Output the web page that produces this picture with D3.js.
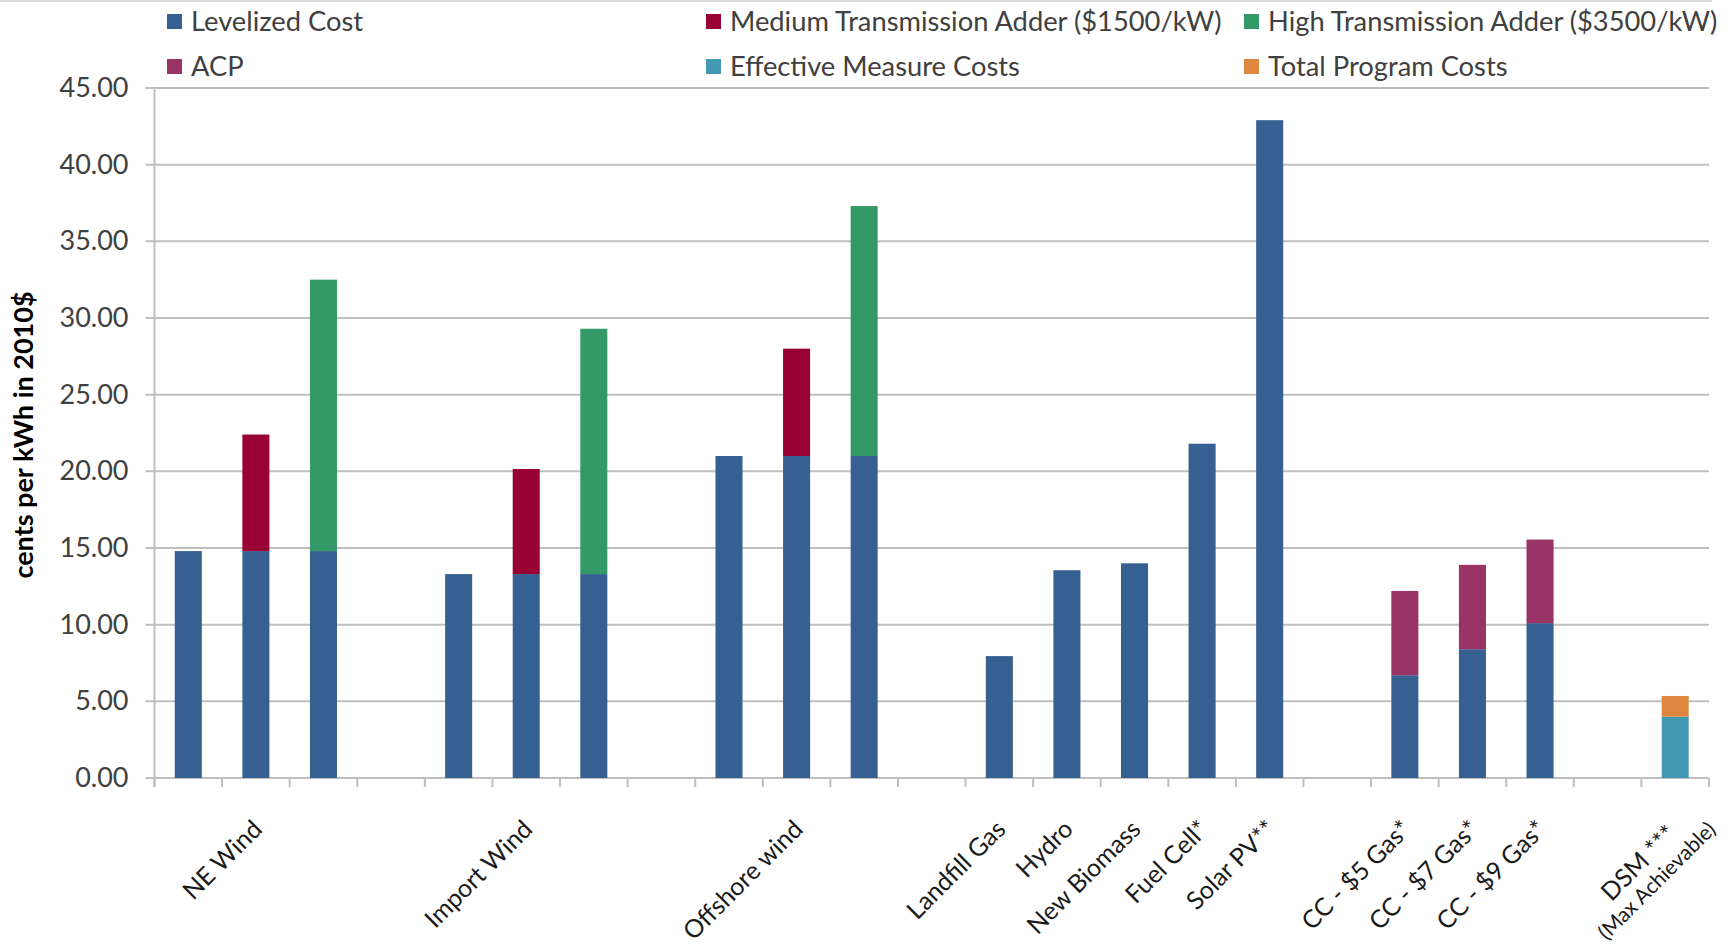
<!DOCTYPE html>
<html>
<head>
<meta charset="utf-8">
<script src="https://cdn.jsdelivr.net/npm/d3@7"></script>
<style>
  html, body { margin: 0; padding: 0; background: #ffffff; }
  svg { display: block; }
  text { font-family: Lato, "Open Sans", sans-serif; }
</style>
</head>
<body>
<svg id="chart" width="1733" height="947"></svg>
<script>
// Category slots along the x axis (blank slots separate the groups)
const slotLabels = [
  "", "NE Wind", "", "",
  "", "Import Wind", "", "",
  "", "Offshore wind", "", "",
  "Landfill Gas", "Hydro", "New Biomass", "Fuel Cell*", "Solar PV**", "",
  "CC - $5 Gas*", "CC - $7 Gas*", "CC - $9 Gas*", "",
  "DSM ***"
];
const slotSubLabels = [
  "", "", "", "", "", "", "", "", "", "", "", "",
  "", "", "", "", "", "", "", "", "", "",
  "(Max Achievable)"
];

// Series values, cents per kWh in 2010$
const levelizedCost   = [14.8, 14.8, 14.8, 0, 13.3, 13.3, 13.3, 0, 21.0, 21.0, 21.0, 0, 7.95, 13.55, 14.0, 21.8, 42.9, 0, 6.7, 8.4, 10.1, 0, 0];
const mediumAdder     = [0, 7.6, 0, 0, 0, 6.85, 0, 0, 0, 7.0, 0, 0, 0, 0, 0, 0, 0, 0, 0, 0, 0, 0, 0];
const highAdder       = [0, 0, 17.7, 0, 0, 0, 16.0, 0, 0, 0, 16.3, 0, 0, 0, 0, 0, 0, 0, 0, 0, 0, 0, 0];
const acp             = [0, 0, 0, 0, 0, 0, 0, 0, 0, 0, 0, 0, 0, 0, 0, 0, 0, 0, 5.5, 5.5, 5.45, 0, 0];
const effectiveCosts  = [0, 0, 0, 0, 0, 0, 0, 0, 0, 0, 0, 0, 0, 0, 0, 0, 0, 0, 0, 0, 0, 0, 4.0];
const programCosts    = [0, 0, 0, 0, 0, 0, 0, 0, 0, 0, 0, 0, 0, 0, 0, 0, 0, 0, 0, 0, 0, 0, 1.35];

const seriesNames = [
  "Levelized Cost",
  "Medium Transmission Adder ($1500/kW)",
  "High Transmission Adder ($3500/kW)",
  "ACP",
  "Effective Measure Costs",
  "Total Program Costs"
];
const seriesValues = [levelizedCost, mediumAdder, highAdder, acp, effectiveCosts, programCosts];
const seriesColors = ["#376092", "#990033", "#339966", "#993366", "#4399b3", "#df873e"];

const yTicks = [0, 5, 10, 15, 20, 25, 30, 35, 40, 45];

// ---- layout ----
const plotLeft = 154.5, plotRight = 1709, plotTop = 88, plotBottom = 778;
const labelFont = 25;

const svg = d3.select("#chart");

const x = d3.scaleBand()
  .domain(d3.range(slotLabels.length))
  .range([plotLeft, plotRight])
  .paddingInner(0.6)
  .paddingOuter(0.3);

const y = d3.scaleLinear().domain([0, 45]).range([plotBottom, plotTop]);

// thin frame line across the top
svg.append("line")
  .attr("x1", 0).attr("x2", 1712).attr("y1", 1).attr("y2", 1)
  .attr("stroke", "#d9d9d9").attr("stroke-width", 2);

// horizontal gridlines with their left tick stubs
svg.append("g").selectAll("line")
  .data(yTicks)
  .join("line")
  .attr("x1", plotLeft - 9).attr("x2", plotRight)
  .attr("y1", d => y(d)).attr("y2", d => y(d))
  .attr("stroke", "#bfbfbf").attr("stroke-width", 2);

// y axis line
svg.append("line")
  .attr("x1", plotLeft).attr("x2", plotLeft)
  .attr("y1", plotTop).attr("y2", plotBottom + 9)
  .attr("stroke", "#bfbfbf").attr("stroke-width", 2);

// y tick labels
const yAxis = d3.axisLeft(y).tickValues(yTicks).tickFormat(d3.format(".2f")).tickSize(0).tickPadding(0);
const yAxisG = svg.append("g").attr("transform", `translate(${plotLeft - 26},0)`).call(yAxis);
yAxisG.select(".domain").remove();
yAxisG.selectAll("text")
  .attr("font-family", "Lato, 'Open Sans', sans-serif")
  .attr("font-size", 27)
  .attr("fill", "#404040");

// x axis tick marks on the slot boundaries
const step = x.step();
const boundaries = d3.range(slotLabels.length + 1).map(i => plotLeft + i * step);
svg.append("g").selectAll("line")
  .data(boundaries)
  .join("line")
  .attr("x1", d => d).attr("x2", d => d)
  .attr("y1", plotBottom).attr("y2", plotBottom + 9)
  .attr("stroke", "#bfbfbf").attr("stroke-width", 2);

// stacked bars
const rows = slotLabels.map((_, i) => {
  const r = { slot: i };
  seriesNames.forEach((name, s) => { r[name] = seriesValues[s][i]; });
  return r;
});
const stacked = d3.stack().keys(seriesNames)(rows);

svg.append("g").selectAll("g")
  .data(stacked)
  .join("g")
  .attr("fill", (d, i) => seriesColors[i])
  .selectAll("rect")
  .data(d => d.filter(p => p[1] - p[0] > 0))
  .join("rect")
  .attr("x", p => x(p.data.slot))
  .attr("width", x.bandwidth())
  .attr("y", p => y(p[1]))
  .attr("height", p => y(p[0]) - y(p[1]));

// category labels, rotated 45 degrees
const labelG = svg.append("g");
slotLabels.forEach((label, i) => {
  if (!label) return;
  const cx = x(i) + x.bandwidth() / 2;
  const g = labelG.append("g").attr("transform", `translate(${cx - 5},${plotBottom + 40}) rotate(-45)`);
  if (slotSubLabels[i]) {
    const sub = g.append("text")
      .attr("text-anchor", "middle")
      .attr("font-size", 21)
      .attr("fill", "#1a1a1a")
      .attr("dy", "0.72em")
      .text(slotSubLabels[i]);
    const subLen = sub.node().getComputedTextLength();
    const mid = 24 - subLen / 2;
    sub.attr("x", mid).attr("y", 27);
    g.append("text")
      .attr("text-anchor", "middle")
      .attr("x", mid)
      .attr("font-size", labelFont)
      .attr("fill", "#1a1a1a")
      .attr("dy", "0.72em")
      .text(label);
  } else {
    g.append("text")
      .attr("text-anchor", "end")
      .attr("font-size", labelFont)
      .attr("fill", "#1a1a1a")
      .attr("dy", "0.72em")
      .text(label);
  }
});

// y axis title
svg.append("text")
  .attr("transform", `translate(33,${(plotTop + plotBottom) / 2 + 2}) rotate(-90)`)
  .attr("text-anchor", "middle")
  .attr("font-size", 27)
  .attr("font-weight", "bold")
  .attr("fill", "#000")
  .text("cents per kWh in 2010$");

// legend: three columns, two rows
const legendCols = [167, 706, 1244];
const legendRows = [14, 59];
const legend = svg.append("g").selectAll("g")
  .data(seriesNames)
  .join("g")
  .attr("transform", (d, i) => `translate(${legendCols[i % 3]},${legendRows[Math.floor(i / 3)]})`);
legend.append("rect")
  .attr("width", 15).attr("height", 15)
  .attr("fill", (d, i) => seriesColors[i]);
legend.append("text")
  .attr("x", 24).attr("y", 7.5)
  .attr("dy", "0.36em")
  .attr("font-size", 27.3)
  .attr("fill", "#404040")
  .text(d => d);
</script>
</body>
</html>
